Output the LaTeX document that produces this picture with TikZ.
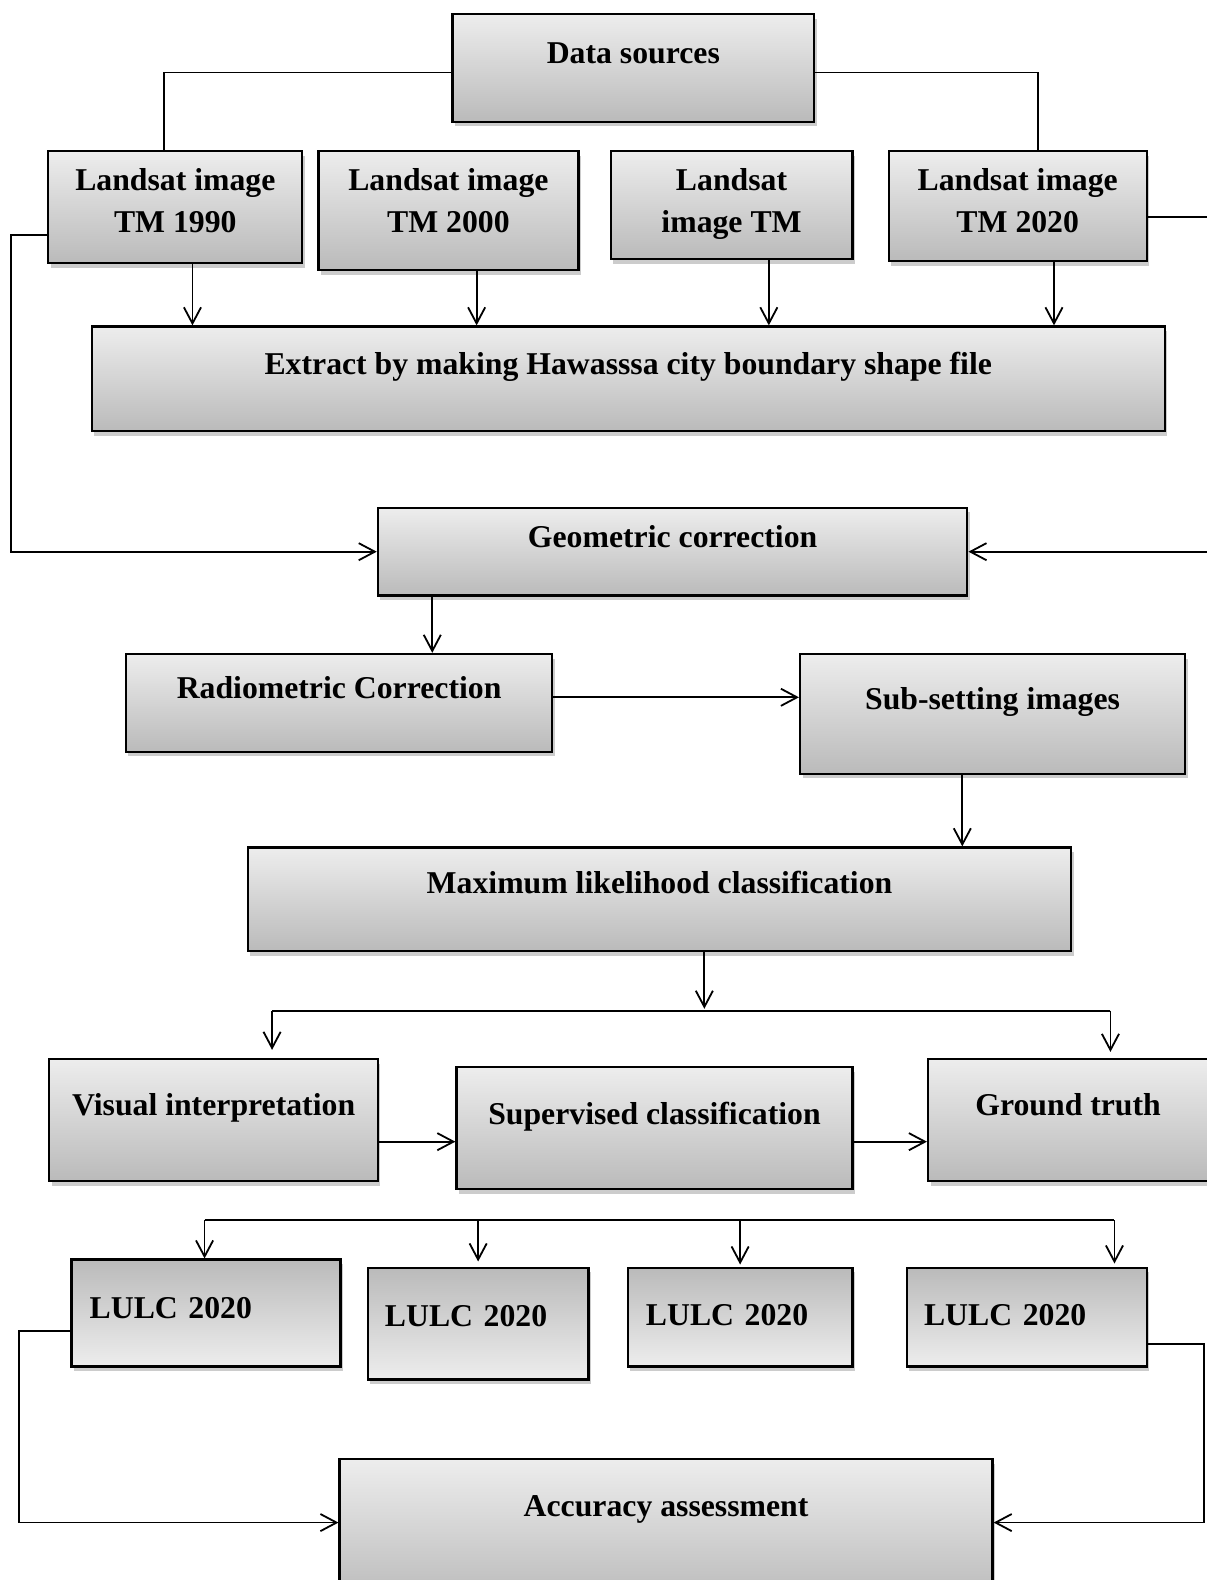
\documentclass[tikz,border=0pt]{standalone}
\usepackage{fontspec}
\setmainfont{Liberation Serif}
\usepackage{tikz}
\usetikzlibrary{calc,positioning,shadows,arrows.meta}
\tikzstyle{block} = [rectangle, draw, line width=2.2pt, inner sep=0pt, align=center, top color=black!7, bottom color=black!27, drop shadow={shadow xshift=2.5pt, shadow yshift=-4.5pt, opacity=0.4}, font=\bfseries\fontsize{31.5}{42}\selectfont]
\tikzstyle{lulc} = [block, top color=black!27, bottom color=black!7, align=left]

\begin{document}
\begin{tikzpicture}[x=1pt, y=-1pt, line width=1.8pt, >={Straight Barb[length=16pt,width=17pt]}]
      \useasboundingbox (0,0) rectangle (1197,1568);
      % sources and images
      \node[block, minimum width=359pt, minimum height=107pt, text height=49pt, text depth=58pt] (DataSources) at (628.5,67.5) {Data sources};
      \node[block, minimum width=252pt, minimum height=111pt, text height=81pt, text depth=30pt] (Image1990) at (174,205.5) {Landsat image\\TM 1990};
      \node[block, minimum width=258pt, minimum height=118pt, text height=81pt, text depth=37pt] (Image2000) at (445,209) {Landsat image\\TM 2000};
      \node[block, minimum width=240pt, minimum height=107pt, text height=81pt, text depth=26pt] (ImageTM) at (726,203.5) {Landsat\\image TM};
      \node[block, minimum width=256pt, minimum height=109pt, text height=81pt, text depth=28pt] (Image2020) at (1010,204.5) {Landsat image\\TM 2020};
      \node[block, minimum width=1065pt, minimum height=104pt, text height=48pt, text depth=56pt] (Extract) at (623.5,376) {Extract by making Hawasssa city boundary shape file};
      % preprocessing
      \node[block, minimum width=585pt, minimum height=87pt, text height=39pt, text depth=48pt] (GeoCorr) at (667.5,547.5) {Geometric correction};
      \node[block, minimum width=423pt, minimum height=97pt, text height=44pt, text depth=53pt] (RadCorr) at (336.5,697.5) {Radiometric Correction};
      \node[block, minimum width=382pt, minimum height=119pt, text height=55pt, text depth=64pt] (Subset) at (985,708.5) {Sub-setting images};
      \node[block, minimum width=817pt, minimum height=103pt, text height=46pt, text depth=57pt] (MaxLike) at (654.5,892.5) {Maximum likelihood classification};
      % classification
      \node[block, minimum width=326pt, minimum height=121pt, text height=56pt, text depth=65pt] (Visual) at (212,1111.5) {Visual interpretation};
      \node[block, minimum width=393pt, minimum height=121pt, text height=57pt, text depth=64pt] (Supervised) at (649.5,1119.5) {Supervised classification};
      \node[block, minimum width=278pt, minimum height=121pt, text height=56pt, text depth=65pt] (GroundTruth) at (1060,1111.5) {Ground truth};
      % results
      \node[lulc, text width=231pt, inner xsep=18pt, minimum height=106pt, text height=58pt, text depth=48pt] (Lulc1) at (204.5,1303) {LULC 2020};
      \node[lulc, text width=185pt, inner xsep=17pt, minimum height=111pt, text height=58pt, text depth=53pt] (Lulc2) at (474.5,1313.5) {LULC 2020};
      \node[lulc, text width=187pt, inner xsep=18pt, minimum height=98pt, text height=57pt, text depth=41pt] (Lulc3) at (734.5,1307) {LULC 2020};
      \node[lulc, text width=204pt, inner xsep=17pt, minimum height=98pt, text height=57pt, text depth=41pt] (Lulc4) at (1019,1307) {LULC 2020};
      \node[block, minimum width=648pt, minimum height=142pt, text height=57pt, text depth=85pt] (Accuracy) at (661,1519) {Accuracy assessment};
      \coordinate (BusA) at (270,1003);
      \coordinate (BusB) at (1102,1003);
      \coordinate (BusC) at (203,1211);
      \coordinate (BusD) at (1106,1211);
      %
      \draw ($(DataSources.west)+(0,4.5)$) -| ($(Image1990.north)+(-11,0)$);
      \draw ($(DataSources.east)+(0,4.5)$) -| ($(Image2020.north)+(20,0)$);
      \draw[->] ([xshift=17pt]Image1990.south) -- ([xshift=17pt]Image1990.south |- Extract.north);
      \draw[->] ([xshift=28pt]Image2000.south) -- ([xshift=28pt]Image2000.south |- Extract.north);
      \draw[->] ([xshift=37pt]ImageTM.south) -- ([xshift=37pt]ImageTM.south |- Extract.north);
      \draw[->] ([xshift=36pt]Image2020.south) -- ([xshift=36pt]Image2020.south |- Extract.north);
      \draw[->] ($(Image1990.west)+(0,27.5)$) -- ++(-36,0) |- (GeoCorr.west);
      \draw[->] ($(Image2020.east)+(0,10.5)$) -- ++(80,0) |- (GeoCorr.east);
      \draw[->] ([xshift=-238.5pt]GeoCorr.south) -- ([xshift=-238.5pt]GeoCorr.south |- RadCorr.north);
      \draw[->] ([yshift=5.5pt]RadCorr.east) -- ([yshift=5.5pt]RadCorr.east -| Subset.west);
      \draw[->] ([xshift=-30pt]Subset.south) -- ([xshift=-30pt]Subset.south |- MaxLike.north);
      \draw[->] ([xshift=44.5pt]MaxLike.south) -- ++(0,56);
      \draw (BusA) -- (BusB);
      \draw[->] (BusA) -- ([yshift=8pt]BusA |- Visual.north);
      \draw[->] (BusB) -- ([yshift=6pt]BusB |- GroundTruth.north);
      \draw[->] ([yshift=-21.5pt]Visual.east) -- ([yshift=-21.5pt]Visual.east -| Supervised.west);
      \draw[->] ([yshift=-13.5pt]Supervised.east) -- ([yshift=-13.5pt]Supervised.east -| GroundTruth.west);
      \draw (BusC) -- (BusD);
      \draw[->] (BusC) -- (BusC |- Lulc1.north);
      \draw[->] (Lulc2.north |- BusC) -- ([yshift=5pt]Lulc2.north);
      \draw[->] (Lulc3.north |- BusC) -- ([yshift=2pt]Lulc3.north);
      \draw[->] (BusD) -- ([yshift=3pt]BusD |- Lulc4.north);
      \draw[->] ([yshift=-18pt]Lulc1.west) -- ++(-51,0) |- ([yshift=8pt]Accuracy.west);
      \draw[->] ([yshift=-27pt]Lulc4.east) -- ++(56,0) |- ([yshift=8pt]Accuracy.east);
\end{tikzpicture}
\end{document}
